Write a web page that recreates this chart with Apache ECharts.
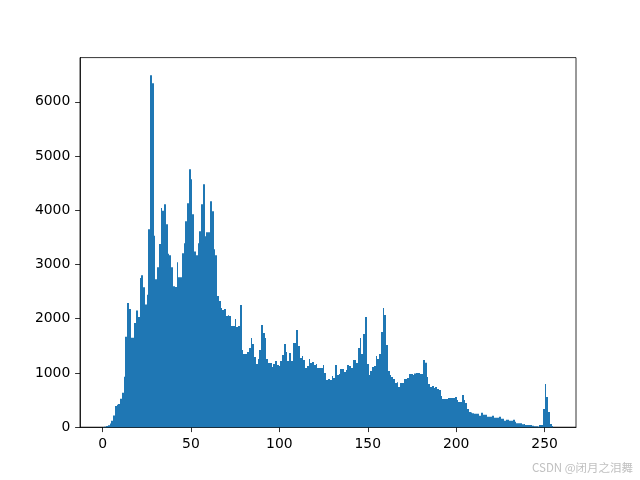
<!DOCTYPE html>
<html>
<head>
<meta charset="utf-8">
<script src="https://cdn.jsdelivr.net/npm/echarts@6/dist/echarts.min.js"></script>
<style>
  html, body { margin: 0; padding: 0; background: #fff; }
  #chart { width: 640px; height: 480px; }
</style>
</head>
<body>
<div id="chart"></div>
<script>
// histogram of pixel values, 256 bins over [0, 255]
const binCount = 256;
const valueRange = [0, 255];
const counts = [
  2, 8, 21, 34, 70, 120, 218, 390, 415, 427,
  525, 636, 930, 1667, 2290, 2180, 1650, 1650, 1920, 2150,
  2030, 2750, 2800, 2580, 2260, 2440, 3650, 6490, 6340, 3530,
  2730, 2950, 3380, 4040, 3990, 4110, 3740, 3200, 3170, 2950,
  2600, 2583, 3040, 2767, 2767, 3209, 3393, 3798, 4130, 4756,
  4572, 3927, 3240, 3172, 3393, 3614, 4111, 4480, 3522, 3596,
  3596, 4167, 3982, 3283, 3172, 2417, 2325, 2196, 2160, 2178,
  2048, 2066, 2048, 1864, 1864, 1993, 1846, 1864, 2251, 1422,
  1348, 1348, 1385, 1459, 1643, 1533, 1293, 1164, 1256, 1422,
  1883, 1735, 1643, 1256, 1183, 1183, 1109, 1164, 1219, 1146,
  1127, 1219, 1330, 1533, 1385, 1219, 1367, 1219, 1551, 1551,
  1790, 1496, 1275, 1312, 1238, 1090, 1127, 1256, 1183, 1201,
  1146, 1164, 1090, 1090, 1090, 1146, 998, 869, 888, 869,
  943, 906, 1146, 962, 980, 1072, 1072, 1017, 1054, 1146,
  1127, 1090, 1238, 1238, 1183, 1459, 1643, 1348, 1717, 2030,
  1164, 962, 1035, 1109, 1127, 1312, 1256, 1348, 1753, 2196,
  2067, 1514, 1035, 962, 925, 888, 814, 830, 740, 814,
  814, 888, 888, 906, 980, 980, 962, 990, 998, 998,
  980, 980, 1238, 1188, 925, 796, 740, 759, 722, 740,
  704, 685, 575, 519, 519, 519, 538, 538, 538, 538,
  556, 501, 464, 464, 593, 501, 446, 335, 280, 270,
  255, 249, 249, 249, 212, 267, 230, 230, 193, 193,
  193, 212, 175, 175, 175, 193, 157, 157, 120, 138,
  138, 120, 120, 138, 101, 72, 72, 72, 53, 60,
  41, 41, 41, 41, 28, 18, 18, 10, 41, 41,
  335, 796, 556, 280, 60, 20
];
const xTicks = [0, 50, 100, 150, 200, 250];
const yTicks = [0, 1000, 2000, 3000, 4000, 5000, 6000];

const binWidth = (valueRange[1] - valueRange[0]) / binCount;
const span = valueRange[1] - valueRange[0];
const histData = counts.map((c, i) => [valueRange[0] + i * binWidth, valueRange[0] + (i + 1) * binWidth, c]);

const chart = echarts.init(document.getElementById('chart'), null, { renderer: 'canvas' });

const axisCommon = {
  axisLine: { show: true, onZero: false, lineStyle: { color: '#000', width: 0.8 } },
  axisTick: { show: true, inside: false, length: 4.9, lineStyle: { color: '#000', width: 0.8 } },
  axisLabel: { color: '#000', fontSize: 13.9, fontFamily: 'DejaVu Sans', margin: 9.7, formatter: v => String(v) },
  splitLine: { show: false }
};

const option = {
  animation: false,
  backgroundColor: '#fff',
  grid: { left: 80, right: 64, top: 57.6, bottom: 52.8, show: true, borderColor: '#000', borderWidth: 0.8 },
  xAxis: {
    type: 'value',
    min: valueRange[0] - 0.05 * span,
    max: valueRange[1] + 0.05 * span,
    ...axisCommon,
    axisTick: { ...axisCommon.axisTick, customValues: xTicks },
    axisLabel: { ...axisCommon.axisLabel, customValues: xTicks }
  },
  yAxis: {
    type: 'value',
    min: 0,
    max: Math.max(...counts) * 1.05,
    ...axisCommon,
    axisTick: { ...axisCommon.axisTick, customValues: yTicks },
    axisLabel: { ...axisCommon.axisLabel, customValues: yTicks }
  },
  series: [{
    type: 'custom',
    data: histData,
    encode: { x: [0, 1], y: 2 },
    renderItem: function (params, api) {
      const p0 = api.coord([api.value(0), 0]);
      const p1 = api.coord([api.value(1), api.value(2)]);
      // snap bin edges to whole pixels so neighbouring bars touch
      const x0 = Math.round(p0[0]);
      const x1 = Math.round(p1[0]);
      return {
        type: 'rect',
        shape: { x: x0, y: p1[1], width: x1 - x0, height: p0[1] - p1[1] },
        style: { fill: '#1f77b4' }
      };
    }
  }],
  graphic: [{
    type: 'text',
    left: 532,
    top: 462,
    style: { text: 'CSDN @闭月之泪舞', fill: '#c0c0c0', font: '11.5px "Noto Sans CJK SC", sans-serif' }
  }]
};

try {
  chart.setOption(option);
} catch (e) {
  console.log(e);
}
</script>
</body>
</html>
